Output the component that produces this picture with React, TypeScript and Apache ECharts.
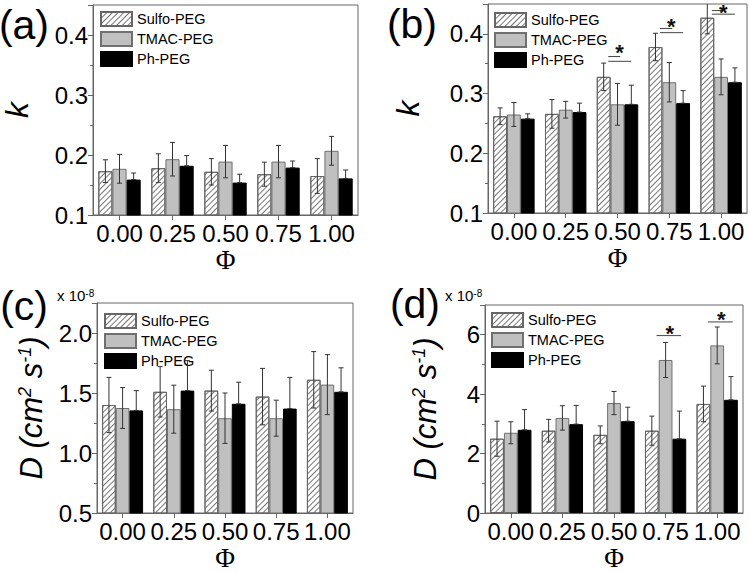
import React, { useEffect, useRef } from 'react';
import * as echarts from 'echarts';

const categories = ['0.00', '0.25', '0.50', '0.75', '1.00'];
const seriesNames = ['Sulfo-PEG', 'TMAC-PEG', 'Ph-PEG'];

// (a) k values
const kA_sulfo = [0.173, 0.178, 0.172, 0.168, 0.165];
const kA_sulfoErr = [0.019, 0.024, 0.022, 0.020, 0.029];
const kA_tmac = [0.177, 0.193, 0.189, 0.189, 0.207];
const kA_tmacErr = [0.024, 0.028, 0.027, 0.027, 0.024];
const kA_ph = [0.159, 0.182, 0.154, 0.179, 0.161];
const kA_phErr = [0.011, 0.017, 0.014, 0.011, 0.014];

// (b) k values
const kB_sulfo = [0.262, 0.266, 0.328, 0.378, 0.427];
const kB_sulfoErr = [0.014, 0.024, 0.023, 0.023, 0.027];
const kB_tmac = [0.265, 0.273, 0.282, 0.319, 0.328];
const kB_tmacErr = [0.020, 0.014, 0.035, 0.033, 0.030];
const kB_ph = [0.258, 0.269, 0.282, 0.284, 0.319];
const kB_phErr = [0.008, 0.015, 0.032, 0.021, 0.024];

// (c) D values (x 1e-8)
const dC_sulfo = [1.40, 1.51, 1.52, 1.47, 1.61];
const dC_sulfoErr = [0.23, 0.21, 0.17, 0.235, 0.235];
const dC_tmac = [1.375, 1.365, 1.29, 1.29, 1.57];
const dC_tmacErr = [0.17, 0.20, 0.21, 0.15, 0.25];
const dC_ph = [1.355, 1.52, 1.41, 1.37, 1.51];
const dC_phErr = [0.165, 0.25, 0.18, 0.26, 0.20];

// (d) D values (x 1e-8)
const dD_sulfo = [2.50, 2.77, 2.63, 2.77, 3.67];
const dD_sulfoErr = [0.59, 0.38, 0.30, 0.49, 0.60];
const dD_tmac = [2.70, 3.20, 3.70, 5.15, 5.64];
const dD_tmacErr = [0.37, 0.41, 0.39, 0.59, 0.62];
const dD_ph = [2.80, 2.99, 3.09, 2.50, 3.81];
const dD_phErr = [0.68, 0.63, 0.47, 0.93, 0.78];

// significance markers
const sigB_cat = [2, 3, 4];
const sigB_upper = [0.362, 0.409, 0.439];
const sigB_lower = [0.354, 0.402, 0.433];
const sigB_star = [0.368, 0.413, 0.435];
const sigD_cat = [3, 4];
const sigD_line = [5.97, 6.43];
const sigD_star = [6.05, 6.5];

const FONT = 'Liberation Sans';
const AX = '#666';
const TICK_FS = 24;

const hatch = {
  symbol: 'rect',
  symbolSize: 1,
  color: '#777',
  backgroundColor: '#fff',
  dashArrayX: [1, 0],
  dashArrayY: [1, 3],
  rotation: -Math.PI / 4,
};

const styles = [
  { color: '#fff', borderColor: '#666', borderWidth: 1, decal: hatch },
  { color: '#c0c0c0', borderColor: '#707070', borderWidth: 1 },
  { color: '#000', borderColor: '#000', borderWidth: 1 },
];

function barSeries(g: number, idx: number, vals: number[]) {
  return {
    type: 'bar',
    name: seriesNames[idx],
    xAxisIndex: g,
    yAxisIndex: g,
    data: vals,
    barGap: '0%',
    barCategoryGap: '20%',
    itemStyle: styles[idx],
    silent: true,
  };
}

function errSeries(g: number, slot: number, vals: number[], errs: number[], upperOnly: boolean) {
  return {
    type: 'custom',
    xAxisIndex: g,
    yAxisIndex: g,
    z: 10,
    silent: true,
    clip: true,
    encode: { x: 0, y: 1 },
    data: vals.map((v, i) => [i, v, errs[i]]),
    renderItem: (params: any, api: any) => {
      const i = api.value(0);
      const v = api.value(1);
      const e = api.value(2);
      const band = api.size([1, 0])[0];
      const bw = (band * 0.8) / 3;
      const x = api.coord([i, v])[0] + slot * bw;
      const yt = api.coord([i, v + e])[1];
      const yb = api.coord([i, upperOnly ? v : v - e])[1];
      const c = 2.5;
      const st = { stroke: '#333', lineWidth: 1 };
      return {
        type: 'group',
        children: [
          { type: 'line', shape: { x1: x, y1: yt, x2: x, y2: yb }, style: st },
          { type: 'line', shape: { x1: x - c, y1: yt, x2: x + c, y2: yt }, style: st },
          { type: 'line', shape: { x1: x - c, y1: yb, x2: x + c, y2: yb }, style: st },
        ],
      };
    },
  };
}

function sigSeriesB(g: number) {
  return {
    type: 'custom',
    xAxisIndex: g,
    yAxisIndex: g,
    z: 11,
    silent: true,
    encode: { x: 0, y: 1 },
    data: sigB_cat.map((c, i) => [c, sigB_upper[i], sigB_lower[i], sigB_star[i]]),
    renderItem: (params: any, api: any) => {
      const c = api.value(0);
      const band = api.size([1, 0])[0];
      const bw = (band * 0.8) / 3;
      const x0 = api.coord([c, 0.2])[0];
      const yu = api.coord([c, api.value(1)])[1];
      const yl = api.coord([c, api.value(2)])[1];
      const ys = api.coord([c, api.value(3)])[1];
      const st = { stroke: '#444', lineWidth: 1 };
      return {
        type: 'group',
        children: [
          { type: 'line', shape: { x1: x0 - 0.67 * bw, y1: yu, x2: x0 + 0.2 * bw, y2: yu }, style: st },
          { type: 'line', shape: { x1: x0 - 0.67 * bw, y1: yl, x2: x0 + 1.0 * bw, y2: yl }, style: st },
          {
            type: 'text',
            x: x0 + 0.15 * bw,
            y: ys,
            style: { text: '*', fontSize: 22, fontWeight: 'bold', fontFamily: FONT, fill: '#111', align: 'center', verticalAlign: 'middle' },
          },
        ],
      };
    },
  };
}

function sigSeriesD(g: number) {
  return {
    type: 'custom',
    xAxisIndex: g,
    yAxisIndex: g,
    z: 11,
    silent: true,
    encode: { x: 0, y: 1 },
    data: sigD_cat.map((c, i) => [c, sigD_line[i], sigD_star[i]]),
    renderItem: (params: any, api: any) => {
      const c = api.value(0);
      const band = api.size([1, 0])[0];
      const bw = (band * 0.8) / 3;
      const x0 = api.coord([c, 1])[0];
      const yl = api.coord([c, api.value(1)])[1];
      const ys = api.coord([c, api.value(2)])[1];
      const st = { stroke: '#444', lineWidth: 1 };
      return {
        type: 'group',
        children: [
          { type: 'line', shape: { x1: x0 - 0.66 * bw, y1: yl, x2: x0 + 1.13 * bw, y2: yl }, style: st },
          {
            type: 'text',
            x: x0 + 0.3 * bw,
            y: ys,
            style: { text: '*', fontSize: 22, fontWeight: 'bold', fontFamily: FONT, fill: '#111', align: 'center', verticalAlign: 'middle' },
          },
        ],
      };
    },
  };
}

function xAxis(g: number) {
  return {
    type: 'category',
    gridIndex: g,
    data: categories,
    axisLine: { show: true, lineStyle: { color: AX } },
    axisTick: { show: true, alignWithLabel: true, length: 5, lineStyle: { color: AX } },
    axisLabel: { interval: 0, fontSize: TICK_FS, color: '#000', margin: 6, fontFamily: FONT },
    name: 'Φ',
    nameLocation: 'middle',
    nameGap: 31,
    nameTextStyle: { fontFamily: 'Liberation Serif', fontSize: 27, color: '#000' },
  };
}

function yAxis(g: number, min: number, max: number, interval: number, dec: number, name: string, nameGap: number, rich?: any) {
  return {
    type: 'value',
    gridIndex: g,
    min,
    max,
    interval,
    axisLine: { show: true, lineStyle: { color: AX } },
    axisTick: { show: true, length: 5, lineStyle: { color: AX } },
    minorTick: { show: true, splitNumber: 2, length: 3, lineStyle: { color: AX } },
    splitLine: { show: false },
    axisLabel: {
      showMaxLabel: false,
      fontSize: TICK_FS,
      color: '#000',
      margin: 5,
      fontFamily: FONT,
      formatter: (v: number) => v.toFixed(dec),
    },
    name,
    nameLocation: 'middle',
    nameGap,
    nameRotate: 90,
    nameTextStyle: rich
      ? { rich, color: '#000' }
      : { fontFamily: FONT, fontStyle: 'italic', fontSize: 32, color: '#000' },
  };
}

const dRich = {
  i: { fontFamily: FONT, fontStyle: 'italic', fontSize: 31, color: '#000' },
  s: { fontFamily: FONT, fontStyle: 'italic', fontSize: 18, color: '#000', verticalAlign: 'top' },
};
const dName = '{i|D (cm}{s|2}{i| s}{s|-1}{i|)}';

function legend(left: number, top: number) {
  return {
    data: seriesNames,
    orient: 'vertical',
    left,
    top,
    padding: 0,
    itemWidth: 31,
    itemHeight: 14,
    itemGap: 4,
    selectedMode: false,
    icon: 'rect',
    textStyle: { fontFamily: FONT, fontSize: 14.5, color: '#000', lineHeight: 14 },
  };
}

function panelLabel(text: string, right: number, cy: number) {
  return {
    type: 'text',
    x: right,
    y: cy,
    style: { text, fontFamily: FONT, fontSize: 41, fill: '#000', align: 'right', verticalAlign: 'middle' },
  };
}

function expLabel(left: number, baseY: number) {
  return {
    type: 'text',
    x: left,
    y: baseY,
    style: {
      text: '{a|x 10}{b|-8}',
      align: 'left',
      verticalAlign: 'bottom',
      rich: {
        a: { fontFamily: FONT, fontSize: 15, fill: '#000', color: '#000' },
        b: { fontFamily: FONT, fontSize: 10, fill: '#000', color: '#000', verticalAlign: 'top' },
      },
    },
  };
}

export default function App() {
  const ref = useRef<HTMLDivElement>(null);
  useEffect(() => {
    if (!ref.current) return;
    const chart = echarts.init(ref.current, undefined, { renderer: 'svg' });
    const gridBox = { show: true, borderColor: AX, borderWidth: 1, backgroundColor: 'transparent' };
    const option: any = {
      animation: false,
      backgroundColor: '#fff',
      grid: [
        { ...gridBox, left: 93, right: 392, top: 5, bottom: 357 },
        { ...gridBox, left: 488, right: 3, top: 4, bottom: 359 },
        { ...gridBox, left: 97, right: 397, top: 303, bottom: 55 },
        { ...gridBox, left: 485, right: 7, top: 305, bottom: 56 },
      ],
      legend: [legend(100, 11), legend(494, 12), legend(104, 313), legend(491, 312)],
      xAxis: [xAxis(0), xAxis(1), xAxis(2), xAxis(3)],
      yAxis: [
        yAxis(0, 0.1, 0.45, 0.1, 1, 'k', 60),
        yAxis(1, 0.1, 0.45, 0.1, 1, 'k', 64),
        yAxis(2, 0.5, 2.25, 0.5, 1, dName, 50, dRich),
        yAxis(3, 0, 7, 2, 0, dName, 44, dRich),
      ],
      series: [
        barSeries(0, 0, kA_sulfo),
        barSeries(0, 1, kA_tmac),
        barSeries(0, 2, kA_ph),
        errSeries(0, -1, kA_sulfo, kA_sulfoErr, false),
        errSeries(0, 0, kA_tmac, kA_tmacErr, false),
        errSeries(0, 1, kA_ph, kA_phErr, true),

        barSeries(1, 0, kB_sulfo),
        barSeries(1, 1, kB_tmac),
        barSeries(1, 2, kB_ph),
        errSeries(1, -1, kB_sulfo, kB_sulfoErr, false),
        errSeries(1, 0, kB_tmac, kB_tmacErr, false),
        errSeries(1, 1, kB_ph, kB_phErr, true),
        sigSeriesB(1),

        barSeries(2, 0, dC_sulfo),
        barSeries(2, 1, dC_tmac),
        barSeries(2, 2, dC_ph),
        errSeries(2, -1, dC_sulfo, dC_sulfoErr, false),
        errSeries(2, 0, dC_tmac, dC_tmacErr, false),
        errSeries(2, 1, dC_ph, dC_phErr, true),

        barSeries(3, 0, dD_sulfo),
        barSeries(3, 1, dD_tmac),
        barSeries(3, 2, dD_ph),
        errSeries(3, -1, dD_sulfo, dD_sulfoErr, false),
        errSeries(3, 0, dD_tmac, dD_tmacErr, false),
        errSeries(3, 1, dD_ph, dD_phErr, true),
        sigSeriesD(3),
      ],
      graphic: [
        panelLabel('(a)', 49, 25),
        panelLabel('(b)', 437, 24),
        panelLabel('(c)', 48, 306),
        panelLabel('(d)', 440, 304),
        expLabel(57, 303),
        expLabel(445, 303),
      ],
    };
    chart.setOption(option);
    return () => chart.dispose();
  }, []);
  return (
    <div
      ref={ref}
      style={{ position: 'absolute', left: 0, top: 0, width: 750, height: 572, background: '#fff' }}
    />
  );
}
